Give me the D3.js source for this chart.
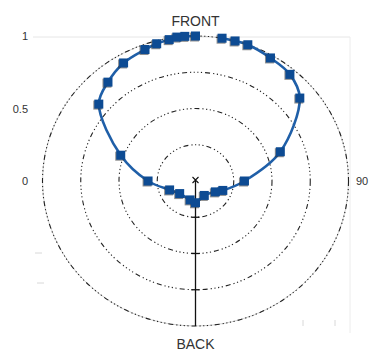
<!DOCTYPE html>
<html>
<head>
<meta charset="utf-8">
<script src="https://cdn.jsdelivr.net/npm/d3@7"></script>
<style>
  html, body { margin: 0; padding: 0; background: #ffffff; }
  svg { display: block; font-family: "Liberation Sans", Arial, sans-serif; }
</style>
</head>
<body>
<svg id="chart" width="371" height="352"></svg>
<script>
// ============================================================
// Data — polar response, angle in degrees (0 = FRONT, clockwise)
// ============================================================
const angles = [10, 15, 20, 30, 40, 50, 70, 90, 110, 120, 150, 180, 195,
                230, 250, 270, 290, 310, 320, 330, 340, 345, 350, 353, 356, 360];
const levels = [1.0, 1.0, 1.0, 0.98, 0.96, 0.89, 0.59, 0.32, 0.19, 0.15, 0.115, 0.15, 0.135,
                0.135, 0.18, 0.31, 0.52, 0.825, 0.89, 0.94, 0.965, 0.98, 0.99, 1.0, 1.0, 1.0];

const ringValues = [0.25, 0.5, 0.75, 1];
const valueLabels = ["1", "0.5", "0"];
const valueLabelAt = [1, 0.5, 0];
const angleLabels = ["FRONT", "90", "BACK"];

const points = angles.map(function (a, i) { return { angle: a, value: levels[i] }; });

// ============================================================
// Layout
// ============================================================
const svg = d3.select("#chart");
const cx = 195.5, cy = 181;

// the plot is a little squashed vertically, so use two radius scales
const rX = d3.scaleLinear().domain([0, 1]).range([0, 153]);
const rY = d3.scaleLinear().domain([0, 1]).range([0, 145]);
const toRad = function (deg) { return deg * Math.PI / 180; };

function px(d) { return cx + rX(d.value) * Math.sin(toRad(d.angle)); }
function py(d) { return cy - rY(d.value) * Math.cos(toRad(d.angle)); }

// faint plot frame
svg.append("line").attr("x1", 33).attr("x2", 350).attr("y1", 37).attr("y2", 37)
    .attr("stroke", "#e6e6e6").attr("stroke-width", 1);
svg.append("line").attr("x1", 350).attr("x2", 350).attr("y1", 37).attr("y2", 333)
    .attr("stroke", "#ececec").attr("stroke-width", 1);

// rings
const rings = svg.append("g").attr("class", "rings");
rings.append("ellipse")
    .attr("cx", cx).attr("cy", cy)
    .attr("rx", rX(1)).attr("ry", rY(1))
    .attr("fill", "none").attr("stroke", "#d4d4d4").attr("stroke-width", 1);
rings.selectAll("ellipse.ring")
    .data(ringValues)
    .enter()
    .append("ellipse")
    .attr("class", "ring")
    .attr("cx", cx).attr("cy", cy)
    .attr("rx", function (d) { return rX(d); })
    .attr("ry", function (d) { return rY(d); })
    .attr("fill", "none")
    .attr("stroke", "#222")
    .attr("stroke-width", 1.1)
    .attr("stroke-dasharray", "5,3,1.2,2.5,1.2,2.5,1.2,2.5,1.2,3");

// radial axis toward BACK
const axis = svg.append("g").attr("class", "axis");
axis.append("line")
    .attr("x1", cx).attr("x2", cx)
    .attr("y1", cy).attr("y2", cy + rY(1))
    .attr("stroke", "#111").attr("stroke-width", 1.3);
axis.selectAll("line.tick")
    .data(ringValues.slice(0, 3))
    .enter()
    .append("line")
    .attr("class", "tick")
    .attr("x1", cx - 4).attr("x2", cx + 4)
    .attr("y1", function (d) { return cy + rY(d); })
    .attr("y2", function (d) { return cy + rY(d); })
    .attr("stroke", "#111").attr("stroke-width", 1.3);
// little cross at the center
axis.append("path")
    .attr("d", "M" + (cx - 3) + "," + (cy - 4) + "L" + (cx + 3) + "," + (cy + 2) +
               "M" + (cx + 3) + "," + (cy - 4) + "L" + (cx - 3) + "," + (cy + 2))
    .attr("stroke", "#111").attr("stroke-width", 1.1);

// faint leftover ticks
svg.selectAll("line.faint")
    .data([[38, 253], [40, 283], [303, 323], [335, 323]])
    .enter()
    .append("line")
    .attr("class", "faint")
    .attr("x1", function (d, i) { return i < 2 ? d[0] - 3 : d[0]; })
    .attr("x2", function (d, i) { return i < 2 ? d[0] + 4 : d[0]; })
    .attr("y1", function (d, i) { return i < 2 ? d[1] : d[1] - 3; })
    .attr("y2", function (d, i) { return i < 2 ? d[1] : d[1] + 3; })
    .attr("stroke", "#d8d8d8").attr("stroke-width", 1);

// ============================================================
// Series
// ============================================================
const line = d3.line()
    .x(px).y(py)
    .curve(d3.curveCatmullRom.alpha(0.5));

svg.append("path")
    .datum(points)
    .attr("d", line)
    .attr("fill", "none")
    .attr("stroke", "#1f5fa8")
    .attr("stroke-width", 2.6);

const marks = svg.append("g").attr("class", "marks");
const ms = 9;
marks.selectAll("rect.shadow")
    .data(points)
    .enter()
    .append("rect")
    .attr("class", "shadow")
    .attr("x", function (d) { return px(d) - ms / 2 - 1; })
    .attr("y", function (d) { return py(d) - ms / 2 + 1; })
    .attr("width", ms).attr("height", ms)
    .attr("fill", "#333").attr("opacity", 0.55);
marks.selectAll("rect.mark")
    .data(points)
    .enter()
    .append("rect")
    .attr("class", "mark")
    .attr("x", function (d) { return px(d) - ms / 2; })
    .attr("y", function (d) { return py(d) - ms / 2; })
    .attr("width", ms).attr("height", ms)
    .attr("fill", "#0d4b93");

// ============================================================
// Labels
// ============================================================
svg.selectAll("text.val")
    .data(valueLabels)
    .enter()
    .append("text")
    .attr("class", "val")
    .attr("x", 28)
    .attr("y", function (d, i) { return cy - rY(valueLabelAt[i]) + 4; })
    .attr("text-anchor", "end")
    .attr("font-size", 11)
    .attr("fill", "#333")
    .text(function (d) { return d; });

svg.append("text").attr("x", cx).attr("y", 26)
    .attr("text-anchor", "middle").attr("font-size", 14).attr("fill", "#333")
    .text(angleLabels[0]);
svg.append("text").attr("x", 356).attr("y", cy + 4)
    .attr("text-anchor", "start").attr("font-size", 11).attr("fill", "#333")
    .text(angleLabels[1]);
svg.append("text").attr("x", cx).attr("y", 349)
    .attr("text-anchor", "middle").attr("font-size", 14).attr("fill", "#333")
    .text(angleLabels[2]);
</script>
</body>
</html>
